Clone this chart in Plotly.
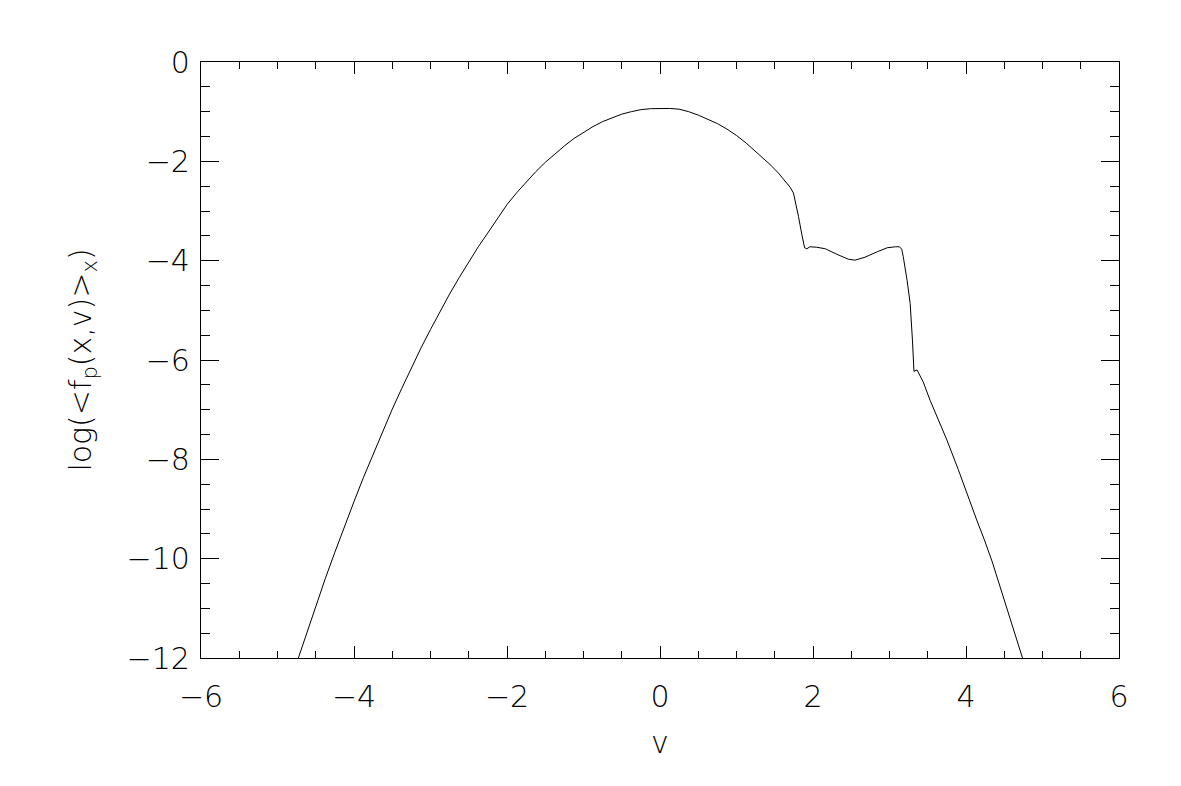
import plotly.graph_objects as go

# velocity points
v = [-4.80, -4.625, -4.50, -4.375, -4.25, -4.125, -4.00, -3.875, -3.75, -3.625,
     -3.50, -3.375, -3.25, -3.125, -3.00, -2.875, -2.75, -2.625, -2.50, -2.375,
     -2.25, -2.125, -2.00, -1.875, -1.75, -1.625, -1.50, -1.375, -1.25, -1.125,
     -1.00, -0.875, -0.75, -0.625, -0.50, -0.375, -0.25, -0.125, 0.00, 0.125,
     0.25, 0.375, 0.50, 0.625, 0.75, 0.875, 1.00, 1.125, 1.25, 1.375,
     1.45, 1.55, 1.62, 1.70, 1.745, 1.78, 1.81, 1.855, 1.89, 1.92,
     1.96, 2.05, 2.16, 2.31, 2.46, 2.55, 2.68, 2.84, 2.97, 3.08,
     3.13, 3.16, 3.18, 3.23, 3.27, 3.30, 3.32, 3.36, 3.44, 3.53,
     3.64, 3.75, 3.90, 4.04, 4.14, 4.24, 4.34, 4.43, 4.57, 4.74, 4.80]

# log(<f_p(x,v)>_x)
logf = [-12.33, -11.52, -10.95, -10.40, -9.87, -9.35, -8.85, -8.36, -7.89, -7.43,
        -6.99, -6.57, -6.16, -5.76, -5.385, -5.02, -4.67, -4.34, -4.02, -3.72,
        -3.44, -3.16, -2.87, -2.635, -2.415, -2.21, -2.02, -1.85, -1.69, -1.54,
        -1.415, -1.30, -1.20, -1.12, -1.05, -1.00, -0.96, -0.94, -0.93, -0.935,
        -0.95, -1.00, -1.07, -1.15, -1.24, -1.35, -1.48, -1.63, -1.80, -1.97,
        -2.08, -2.24, -2.37, -2.52, -2.64, -2.88, -3.11, -3.48, -3.74, -3.76,
        -3.72, -3.73, -3.76, -3.87, -3.97, -3.99, -3.93, -3.82, -3.74, -3.72,
        -3.72, -3.77, -3.92, -4.40, -4.86, -5.60, -6.23, -6.20, -6.44, -6.81,
        -7.21, -7.61, -8.21, -8.82, -9.22, -9.62, -10.05, -10.49, -11.16, -12.00, -12.30]

FONT = "DejaVu Sans"
TXT = dict(family=FONT, size=30, color="black", weight=200)

fig = go.Figure()
fig.add_trace(go.Scatter(
    x=v, y=logf, mode="lines",
    line=dict(color="black", width=1),
    hoverinfo="skip", showlegend=False,
))

axis_common = dict(
    showline=True, linecolor="black", linewidth=1.2, mirror="ticks",
    showgrid=False, zeroline=False,
    ticks="inside", tickcolor="black", tickwidth=1.2,
    tickfont=TXT,
)

fig.update_xaxes(
    range=[-6, 6], tickmode="linear", tick0=-6, dtick=2, ticklen=12,
    minor=dict(dtick=0.5, ticks="inside", ticklen=7, tickcolor="black", tickwidth=1.2),
    title=dict(text="v", font=TXT, standoff=18),
    ticklabelstandoff=12,
    **axis_common,
)
fig.update_yaxes(
    range=[-12, 0], tickmode="linear", tick0=-12, dtick=2, ticklen=18,
    minor=dict(dtick=0.5, ticks="inside", ticklen=9, tickcolor="black", tickwidth=1.2),
    title=dict(text="log(&lt;f<sub>p</sub>(x,v)&gt;<sub>x</sub>)", font=TXT, standoff=26),
    ticklabelstandoff=4,
    **axis_common,
)

# page body adds ~8px offset, so margins are shifted to land the frame where it should
fig.update_layout(
    width=1181, height=786,
    margin=dict(l=193, r=70, t=54, b=136, autoexpand=False),
    paper_bgcolor="white", plot_bgcolor="white",
    font=dict(family=FONT, color="black"),
)

fig.write_html("out.html")
